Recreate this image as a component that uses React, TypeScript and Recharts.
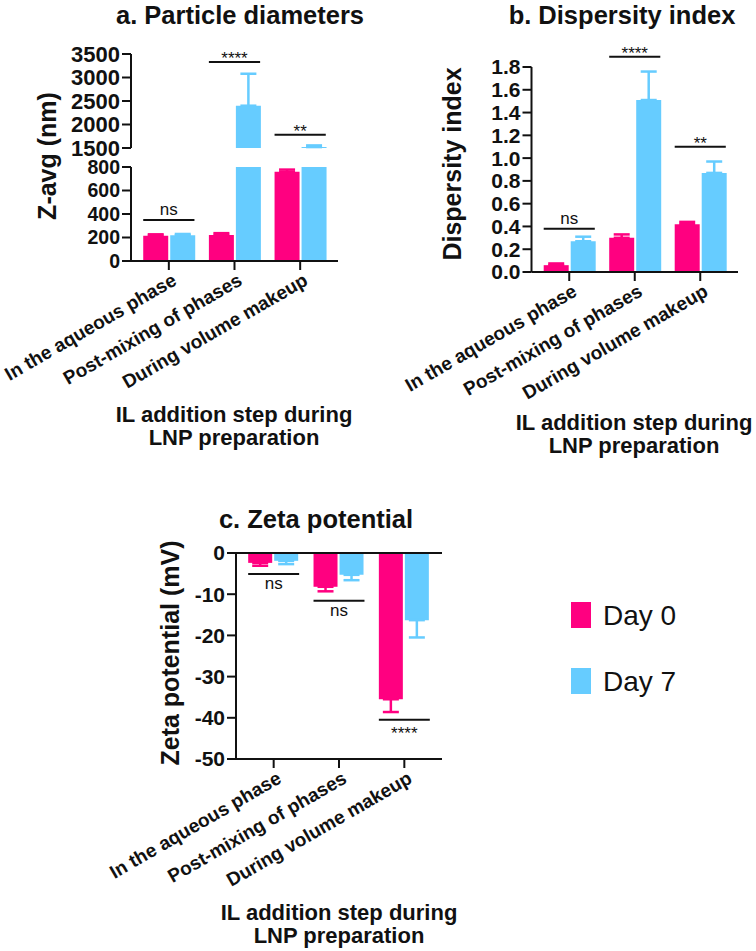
import { BarChart, Bar, XAxis, YAxis, ErrorBar, ReferenceLine, ReferenceArea } from "recharts";

const FONT = "'Liberation Sans', Arial, Helvetica, sans-serif";
const INK = "#111111";

const steps = ["In the aqueous phase", "Post-mixing of phases", "During volume makeup"];
const days = ["Day 0", "Day 7"];
const dayColors = ["#FF0080", "#66CCFF"];

// a. particle diameters (nm), broken axis
const zavgDay0 = [215, 222, 760];
const zavgDay0Sd = [12, 15, 18];
const zavgDay7 = [220, 2400, 1520];
const zavgDay7Sd = [10, 680, 35];
const zavgLowTicks = [0, 200, 400, 600, 800];
const zavgHighTicks = [1500, 2000, 2500, 3000, 3500];

// b. dispersity index
const pdiDay0 = [0.06, 0.3, 0.42];
const pdiDay0Sd = [0.015, 0.03, 0.02];
const pdiDay7 = [0.27, 1.51, 0.87];
const pdiDay7Sd = [0.04, 0.25, 0.1];
const pdiTicks = [0, 0.2, 0.4, 0.6, 0.8, 1.0, 1.2, 1.4, 1.6, 1.8];

// c. zeta potential (mV)
const zetaDay0 = [-2.4, -8.2, -35.5];
const zetaDay0Sd = [0.7, 1.1, 3.1];
const zetaDay7 = [-1.9, -5.3, -16.3];
const zetaDay7Sd = [0.8, 1.3, 4.2];
const zetaTicks = [-50, -40, -30, -20, -10, 0];

// significance brackets: group index, height in data units, mark
const zavgSigLow = [{ group: 0, at: 350, mark: "ns" }];
const zavgSigHigh = [
  { group: 1, at: 3330, mark: "****" },
  { group: 2, at: 1780, mark: "**" },
];
const pdiSig = [
  { group: 0, at: 0.38, mark: "ns" },
  { group: 1, at: 1.89, mark: "****" },
  { group: 2, at: 1.1, mark: "**" },
];
const zetaSig = [
  { group: 0, at: -5.1, mark: "ns" },
  { group: 1, at: -11.6, mark: "ns" },
  { group: 2, at: -40.5, mark: "****" },
];

const BREAK_LO = 800;
const BREAK_HI = 1500;
const GAP = 0.11;
const PAD = { left: 5, right: 5 };

type Pair = [number | null, number[] | null];

const up = (v: number, e: number): Pair => [v, [0, e]];
const down = (v: number, e: number): Pair => [v, [e, 0]];
const lower = (v: number, e: number): Pair => (v <= BREAK_LO ? [v, [0, e]] : [BREAK_LO, null]);
const upper = (v: number, e: number): Pair => (v > BREAK_HI ? [v, [0, e]] : [null, null]);

function rows(v0: number[], e0: number[], v7: number[], e7: number[], map: (v: number, e: number) => Pair) {
  return steps.map((step, i) => {
    const [d0, d0e] = map(v0[i], e0[i]);
    const [d7, d7e] = map(v7[i], e7[i]);
    return { step, d0, d0e, d7, d7e };
  });
}

const zavgLow = rows(zavgDay0, zavgDay0Sd, zavgDay7, zavgDay7Sd, lower);
const zavgHigh = rows(zavgDay0, zavgDay0Sd, zavgDay7, zavgDay7Sd, upper);
const pdiRows = rows(pdiDay0, pdiDay0Sd, pdiDay7, pdiDay7Sd, up);
const zetaRows = rows(zetaDay0, zetaDay0Sd, zetaDay7, zetaDay7Sd, down);

const line = { stroke: INK, strokeWidth: 2 };
const tickFont = (size: number) => ({ fontFamily: FONT, fontSize: size, fontWeight: 700, fill: INK });

function StepTick(props: any) {
  const { x, y, payload } = props;
  return (
    <text
      transform={`translate(${x + 9},${y + 12}) rotate(-30)`}
      textAnchor="end"
      fontFamily={FONT}
      fontWeight={700}
      fontSize={19}
      fill={INK}
    >
      {payload.value}
    </text>
  );
}

function bars() {
  return [0, 1].map((k) => (
    <Bar key={k} dataKey={k ? "d7" : "d0"} name={days[k]} fill={dayColors[k]} isAnimationActive={false}>
      <ErrorBar dataKey={k ? "d7e" : "d0e"} width={8} strokeWidth={2.5} stroke={dayColors[k]} direction="y" />
    </Bar>
  ));
}

// bracket spanning the two bars of a category band
function Bracket(props: any) {
  const { x, y, width } = props;
  const inset = width * GAP;
  return <line x1={x + inset} x2={x + width - inset} y1={y} y2={y} stroke={INK} strokeWidth={2} />;
}

function sigLines(list: { group: number; at: number; mark: string }[], below = false) {
  return list.map((s) => {
    const stars = s.mark.startsWith("*");
    const offset = below ? (stars ? 7 : 3) : stars ? -2 : 5;
    return (
      <ReferenceArea
        key={s.mark + s.group}
        x1={steps[s.group]}
        x2={steps[s.group]}
        y1={s.at}
        y2={s.at}
        ifOverflow="visible"
        shape={Bracket}
        label={{
          value: s.mark,
          position: below ? "bottom" : "top",
          offset,
          fontFamily: FONT,
          fontSize: 17,
          fill: INK,
        }}
      />
    );
  });
}

function Place({ left, top, children }: { left: number; top: number; children: any }) {
  return <div style={{ position: "absolute", left, top }}>{children}</div>;
}

export default function App() {
  const common = { barCategoryGap: "11%", barGap: 2 };
  return (
    <div style={{ position: "absolute", left: 0, top: 0, width: 756, height: 951, background: "#fff" }}>
      {/* a. upper segment of the broken axis */}
      <Place left={0} top={14}>
        <BarChart width={345} height={146} data={zavgHigh} margin={{ top: 40, right: 7, left: 0, bottom: 12 }} {...common}>
          <XAxis dataKey="step" hide padding={PAD} />
          <YAxis
            width={131}
            domain={[BREAK_HI, 3500]}
            ticks={zavgHighTicks}
            allowDataOverflow
            interval={0}
            tickSize={9}
            axisLine={line}
            tickLine={line}
            tick={tickFont(22)}
          />
          {bars()}
          {sigLines(zavgSigHigh)}
        </BarChart>
      </Place>

      {/* a. lower segment */}
      <Place left={0} top={157}>
        <BarChart width={345} height={240} data={zavgLow} margin={{ top: 10, right: 7, left: 0, bottom: 0 }} {...common}>
          <XAxis
            dataKey="step"
            height={136}
            padding={PAD}
            interval={0}
            tickSize={9}
            axisLine={line}
            tickLine={line}
            tick={<StepTick />}
          />
          <YAxis
            width={131}
            domain={[0, BREAK_LO]}
            ticks={zavgLowTicks}
            allowDataOverflow
            interval={0}
            tickSize={9}
            axisLine={line}
            tickLine={line}
            tick={tickFont(19.5)}
          />
          {bars()}
          {sigLines(zavgSigLow)}
        </BarChart>
      </Place>

      {/* b. dispersity index */}
      <Place left={380} top={27}>
        <BarChart width={365} height={381} data={pdiRows} margin={{ top: 40, right: 7, left: 0, bottom: 0 }} {...common}>
          <XAxis
            dataKey="step"
            height={136}
            padding={PAD}
            interval={0}
            tickSize={9}
            axisLine={line}
            tickLine={line}
            tick={<StepTick />}
          />
          <YAxis
            width={151.5}
            domain={[0, 1.8]}
            ticks={pdiTicks}
            allowDataOverflow
            interval={0}
            tickSize={9}
            tickFormatter={(v: number) => v.toFixed(1)}
            axisLine={line}
            tickLine={line}
            tick={tickFont(21)}
          />
          {bars()}
          {sigLines(pdiSig)}
        </BarChart>
      </Place>

      {/* c. zeta potential */}
      <Place left={100} top={533}>
        <BarChart width={349} height={362} data={zetaRows} margin={{ top: 20, right: 7, left: 0, bottom: 0 }} {...common}>
          <XAxis
            dataKey="step"
            height={136}
            padding={PAD}
            interval={0}
            tickSize={9}
            axisLine={line}
            tickLine={line}
            tick={<StepTick />}
          />
          <YAxis
            width={136}
            domain={[-50, 0]}
            ticks={zetaTicks}
            allowDataOverflow
            interval={0}
            tickSize={9}
            axisLine={line}
            tickLine={line}
            tick={tickFont(21)}
          />
          <ReferenceLine y={0} stroke={INK} strokeWidth={2} />
          {bars()}
          {sigLines(zetaSig, true)}
        </BarChart>
      </Place>

      <svg
        width={756}
        height={951}
        style={{ position: "absolute", left: 0, top: 0, pointerEvents: "none" }}
        fontFamily={FONT}
        fill={INK}
      >
        <g fontWeight={700} fontSize={25.5} textAnchor="middle">
          <text x={240} y={24}>a. Particle diameters</text>
          <text x={622} y={24}>b. Dispersity index</text>
          <text x={316} y={528}>c. Zeta potential</text>
        </g>
        <g fontWeight={700} fontSize={22} textAnchor="middle">
          <text x={234} y={422}>IL addition step during</text>
          <text x={234} y={445}>LNP preparation</text>
          <text x={634} y={430}>IL addition step during</text>
          <text x={634} y={453}>LNP preparation</text>
          <text x={339} y={920}>IL addition step during</text>
          <text x={339} y={943}>LNP preparation</text>
        </g>
        <g fontWeight={700} fontSize={25} textAnchor="middle" dominantBaseline="central">
          <text transform="translate(47,156) rotate(-90)">Z-avg (nm)</text>
          <text transform="translate(452,164) rotate(-90)">Dispersity index</text>
          <text transform="translate(170,653) rotate(-90)">Zeta potential (mV)</text>
        </g>
        {days.map((d, k) => (
          <g key={d}>
            <rect x={571} y={602 + k * 66} width={20} height={26} fill={dayColors[k]} />
            <text x={603} y={625 + k * 66} fontSize={28}>
              {d}
            </text>
          </g>
        ))}
      </svg>
    </div>
  );
}
